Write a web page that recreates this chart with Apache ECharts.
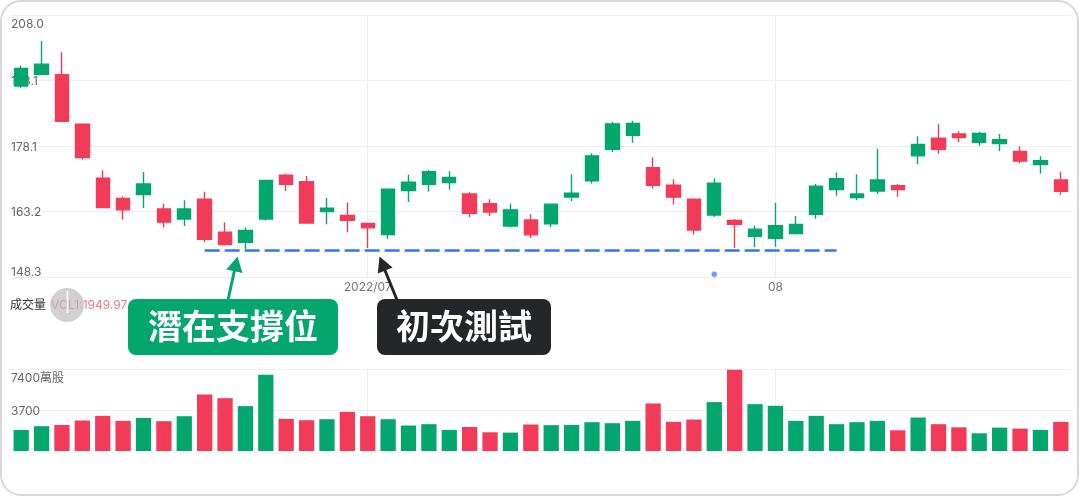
<!DOCTYPE html>
<html><head><meta charset="utf-8">
<script src="https://cdn.jsdelivr.net/npm/echarts@6/dist/echarts.min.js"></script>
<style>html,body{margin:0;padding:0;background:#fff;}#c{width:1080px;height:497px;}</style>
</head><body><div id="c"></div>
<script>
const categories = [
  '2022-06-07','2022-06-08','2022-06-09','2022-06-10','2022-06-13','2022-06-14','2022-06-15','2022-06-16','2022-06-17',
  '2022-06-21','2022-06-22','2022-06-23','2022-06-24','2022-06-27','2022-06-28','2022-06-29','2022-06-30',
  '2022-07-01','2022-07-05','2022-07-06','2022-07-07','2022-07-08','2022-07-11','2022-07-12','2022-07-13','2022-07-14',
  '2022-07-15','2022-07-18','2022-07-19','2022-07-20','2022-07-21','2022-07-22','2022-07-25','2022-07-26','2022-07-27',
  '2022-07-28','2022-07-29',
  '2022-08-01','2022-08-02','2022-08-03','2022-08-04','2022-08-05','2022-08-08','2022-08-09','2022-08-10','2022-08-11',
  '2022-08-12','2022-08-15','2022-08-16','2022-08-17','2022-08-18','2022-08-19'
];
const opens  = [191.8,194.5,194.4,183.1,170.8,166.2,167.1,163.8,161.5,166.0,158.5,156.2,161.5,171.5,170.0,163.2,162.3,
                160.5,158.0,168.0,169.4,169.8,167.2,165.0,159.9,161.3,160.4,166.5,170.2,177.4,180.6,173.2,169.2,166.0,162.4,161.2,157.6,
                157.1,158.2,162.6,168.2,166.4,167.9,169.1,175.9,179.9,180.9,179.0,178.7,176.9,173.9,170.4];
const closes = [195.8,196.8,183.8,175.5,164.1,163.6,169.5,160.8,163.8,156.9,155.7,158.9,170.3,169.4,160.6,164.0,161.2,
                159.5,168.3,169.9,172.3,171.0,162.8,163.1,163.6,157.9,164.9,167.4,175.9,183.2,183.3,169.2,166.5,159.0,169.7,160.3,159.2,
                160.0,160.3,169.0,170.7,167.2,170.4,168.2,178.5,177.4,180.1,181.0,179.6,174.7,174.8,167.8];
const lows   = [191.4,194.5,183.7,175.1,164.1,161.4,164.0,159.6,159.9,156.2,155.5,154.6,161.2,167.9,160.5,160.3,158.5,
                154.9,157.0,165.4,167.8,168.2,161.9,162.2,159.6,157.2,159.7,165.6,169.6,176.8,178.9,168.4,164.8,158.0,162.0,154.9,155.1,
                155.2,158.0,161.6,166.8,165.8,167.2,166.6,174.0,176.4,179.0,178.2,177.0,174.2,171.9,167.0];
const highs  = [196.5,202.1,199.5,183.1,172.6,166.7,172.2,165.0,165.8,167.7,160.8,159.6,170.3,171.8,171.3,166.3,165.3,
                160.6,168.3,171.6,172.7,172.4,167.6,166.0,165.0,162.6,165.0,171.7,176.5,183.6,183.9,175.6,170.6,166.1,170.8,161.5,160.0,
                165.2,162.2,169.5,172.1,171.7,177.5,169.5,180.4,183.1,181.5,181.4,180.9,178.1,175.8,172.3];
const volumes = [1900,2240,2350,2750,3170,2720,2990,2690,3140,5100,4770,4050,6880,2900,2780,2870,3530,
                 3140,2870,2300,2420,1900,2170,1690,1660,2390,2330,2350,2600,2510,2720,4290,2630,2840,4410,7340,4230,
                 4080,2720,3170,2420,2600,2720,1870,3020,2420,2140,1600,2110,2020,1900,2630];
const priceTicks = [148.3, 163.2, 178.1, 193.1, 208.0];
const volumeTicks = [3700, 7400];
const xTickLabels = {'2022-07-01': '2022/07', '2022-08-01': '08'};
const supportLevel = 154.4;
const supportFrom = '2022-06-21';
const supportTo = '2022-08-04';
const markerPoint = ['2022-07-27', 148.9];

const GREEN = '#03a66d', RED = '#f23b59', GRID = '#eeeeee';
const FONT = "Inter, 'Noto Sans CJK TC', sans-serif";
const candleData = opens.map((o, i) => [o, closes[i], lows[i], highs[i]]);
const volData = volumes.map((v, i) => ({value: v, itemStyle: {color: closes[i] >= opens[i] ? GREEN : RED}}));
const vLines = Object.keys(xTickLabels).map(d => ({xAxis: d}));

const chart = echarts.init(document.getElementById('c'), null, {renderer: 'canvas'});
chart.setOption({
  animation: false,
  backgroundColor: '#fff',
  textStyle: {fontFamily: FONT},
  grid: [
    {left: 11, right: 9, top: 15, height: 262},
    {left: 11, right: 9, top: 369, height: 82}
  ],
  xAxis: [
    {type: 'category', gridIndex: 0, data: categories, boundaryGap: true,
     axisLine: {show: false}, axisTick: {show: false}, splitLine: {show: false},
     axisLabel: {interval: (i, v) => v in xTickLabels, formatter: v => xTickLabels[v] || '',
                 margin: 4, color: '#777', fontSize: 12, fontFamily: FONT}},
    {type: 'category', gridIndex: 1, data: categories, boundaryGap: true,
     axisLine: {show: false}, axisTick: {show: false}, axisLabel: {show: false}, splitLine: {show: false}}
  ],
  yAxis: [
    {type: 'value', gridIndex: 0, min: priceTicks[0], max: priceTicks[priceTicks.length - 1], position: 'left',
     axisLine: {show: false},
     axisTick: {show: false, customValues: priceTicks},
     splitLine: {show: true, lineStyle: {color: GRID, width: 1}},
     axisLabel: {inside: true, margin: 0, customValues: priceTicks, color: '#666', fontSize: 12, fontFamily: FONT,
       formatter: v => {
         const s = v.toFixed(1);
         if (v === priceTicks[priceTicks.length - 1]) return '{t|' + s + '}';
         if (v === priceTicks[0]) return '{b|' + s + '}';
         return '{m|' + s + '}';
       },
       rich: {
         t: {padding: [18, 0, 0, 0], color: '#666', fontSize: 12, fontFamily: FONT},
         b: {padding: [0, 0, 9, 0], color: '#666', fontSize: 12, fontFamily: FONT},
         m: {padding: [2, 0, 0, 0], color: '#666', fontSize: 12, fontFamily: FONT}
       }}},
    {type: 'value', gridIndex: 1, min: 0, max: volumeTicks[volumeTicks.length - 1], position: 'left',
     axisLine: {show: false},
     axisTick: {show: false, customValues: volumeTicks},
     splitLine: {show: true, lineStyle: {color: GRID, width: 1}},
     axisLabel: {inside: true, margin: 0, customValues: volumeTicks, color: '#666', fontSize: 12, fontFamily: FONT,
       formatter: v => v === volumeTicks[volumeTicks.length - 1] ? '{t|' + v + '萬股}' : '{m|' + v + '}',
       rich: {
         t: {padding: [19, 0, 0, 0], color: '#666', fontSize: 12, fontFamily: FONT},
         m: {padding: [2, 0, 0, 0], color: '#666', fontSize: 12, fontFamily: FONT}
       }}}
  ],
  series: [
    {type: 'candlestick', xAxisIndex: 0, yAxisIndex: 0, data: candleData, barWidth: '68%', z: 2,
     itemStyle: {color: GREEN, color0: RED, borderColor: GREEN, borderColor0: RED, borderWidth: 1.4},
     markLine: {silent: true, z: 1, symbol: ['none', 'none'], label: {show: false},
                lineStyle: {color: GRID, width: 1, type: 'solid'}, data: vLines}},
    {type: 'scatter', xAxisIndex: 0, yAxisIndex: 0, data: [markerPoint], symbolSize: 5, z: 3,
     itemStyle: {color: '#4d86f7', borderColor: 'rgba(77,134,247,0.35)', borderWidth: 1.5},
     markLine: {silent: true, symbol: ['none', 'none'], label: {show: false},
                lineStyle: {color: '#2f76f0', width: 2.6, type: [15, 5]},
                data: [[{coord: [supportFrom, supportLevel]}, {coord: [supportTo, supportLevel]}]]}},
    {type: 'bar', xAxisIndex: 1, yAxisIndex: 1, data: volData, barWidth: '75%', z: 2,
     markLine: {silent: true, z: 1, symbol: ['none', 'none'], label: {show: false},
                lineStyle: {color: GRID, width: 1, type: 'solid'}, data: vLines}}
  ],
  graphic: [
    {type: 'text', x: 10, y: 305, z: 10, style: {text: '成交量', fontSize: 12, fill: '#333', verticalAlign: 'middle', fontFamily: FONT}},
    {type: 'text', x: 51, y: 305, z: 10, style: {text: 'VOL1:1949.97', fontSize: 12, fill: '#f07a86', verticalAlign: 'middle', fontFamily: FONT}},
    {type: 'circle', z: 11, shape: {cx: 67, cy: 305, r: 17}, style: {fill: 'rgba(185,185,185,0.65)'}},
    {type: 'line', z: 12, shape: {x1: 67.5, y1: 291, x2: 67.5, y2: 313}, style: {stroke: '#fff', lineWidth: 1.5}},
    {type: 'line', z: 20, shape: {x1: 228, y1: 300, x2: 235, y2: 268}, style: {stroke: GREEN, lineWidth: 3}},
    {type: 'polygon', z: 20, shape: {points: [[237.5, 256.5], [242.5, 273], [226.4, 269.5]]}, style: {fill: GREEN}},
    {type: 'line', z: 20, shape: {x1: 397, y1: 300, x2: 384, y2: 268}, style: {stroke: '#25262a', lineWidth: 3}},
    {type: 'polygon', z: 20, shape: {points: [[379.5, 256.5], [392.6, 267.4], [377.8, 273.4]]}, style: {fill: '#25262a'}},
    {type: 'rect', z: 21, shape: {x: 128, y: 299, width: 210, height: 56, r: 8}, style: {fill: GREEN}},
    {type: 'text', z: 22, x: 233, y: 326, style: {text: '潛在支撐位', fill: '#fff', fontSize: 34, fontWeight: 'bold',
      align: 'center', verticalAlign: 'middle', fontFamily: "'Noto Sans CJK TC', sans-serif"}},
    {type: 'rect', z: 21, shape: {x: 377, y: 299, width: 174, height: 56, r: 8}, style: {fill: '#25262a'}},
    {type: 'text', z: 22, x: 464, y: 326, style: {text: '初次測試', fill: '#fff', fontSize: 34, fontWeight: 'bold',
      align: 'center', verticalAlign: 'middle', fontFamily: "'Noto Sans CJK TC', sans-serif"}},
    {type: 'rect', z: 30, silent: true, shape: {x: 1, y: 1, width: 1077, height: 494, r: 20},
     style: {fill: 'none', stroke: '#d9d9d9', lineWidth: 2}}
  ]
});
</script></body></html>
